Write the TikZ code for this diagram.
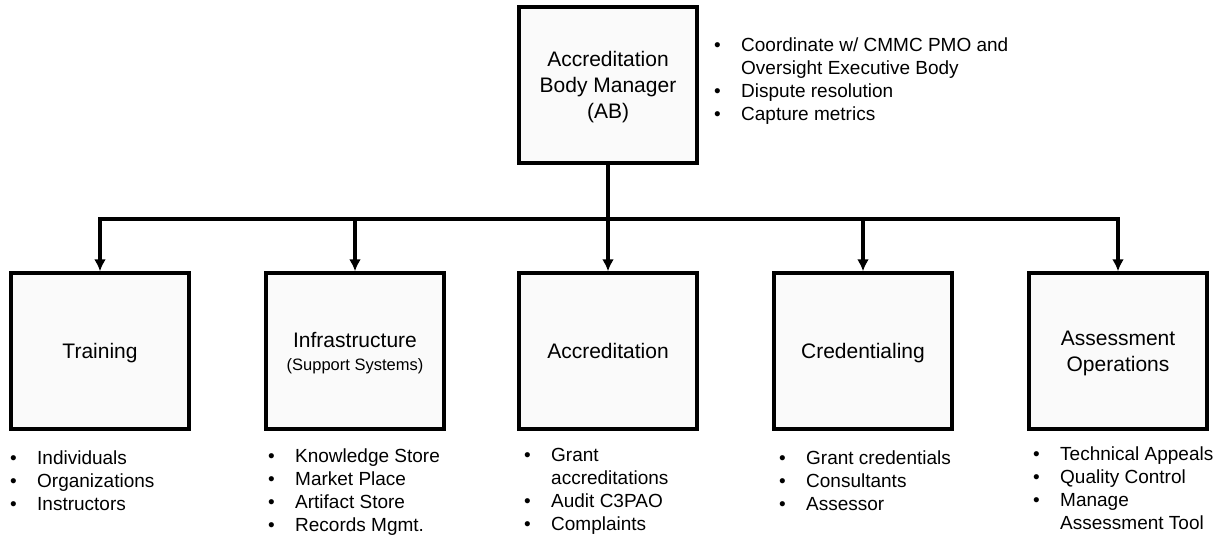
\documentclass[tikz,border=0pt]{standalone}
\usepackage{fontspec}
\setmainfont{Liberation Sans}
\usetikzlibrary{arrows.meta}

\newcommand\bl{\makebox[27pt][l]{\textbullet}}
\newcommand\ind{\hspace*{27pt}}

\tikzset{
  unit/.style={draw,line width=3.5pt,fill=black!2,minimum width=178pt,minimum height=156pt,
    align=center,text depth=-5pt,font=\fontsize{21}{26}\selectfont},
  notes/.style={anchor=north west,inner sep=0pt,align=left,font=\fontsize{19}{23}\selectfont},
  link/.style={line width=3.5pt,->}
}

\begin{document}
\begin{tikzpicture}[x=1pt,y=-1pt,>={Latex[length=12pt,width=12pt]}]
   \useasboundingbox (0,0) rectangle (1225,536);

   \node[unit] (ab) at (608,85) {Accreditation\\Body Manager\\(AB)};
   \node[notes] (abl) at (714,38) {\bl Coordinate w/ CMMC PMO and\\\ind Oversight Executive Body\\\bl Dispute resolution\\\bl Capture metrics};

   \node[unit] (tr) at (100,351) {Training};
   \node[unit] (inf) at (355,351) {Infrastructure\\[-3pt]{\fontsize{16.5}{18}\selectfont(Support Systems)}};
   \node[unit] (acc) at (608,351) {Accreditation};
   \node[unit] (cred) at (863,351) {Credentialing};
   \node[unit] (ops) at (1118,351) {Assessment\\Operations};

   \node[notes] (trl) at (10,451) {\bl Individuals\\\bl Organizations\\\bl Instructors};
   \node[notes] (infl) at (268,449) {\bl Knowledge Store\\\bl Market Place\\\bl Artifact Store\\\bl Records Mgmt.};
   \node[notes] (accl) at (524,448) {\bl Grant\\\ind accreditations\\\bl Audit C3PAO\\\bl Complaints};
   \node[notes] (credl) at (779,451) {\bl Grant credentials\\\bl Consultants\\\bl Assessor};
   \node[notes] (opsl) at (1033,447) {\bl Technical Appeals\\\bl Quality Control\\\bl Manage\\\ind Assessment Tool};

   \coordinate (split) at (608,219);

   \draw [link] (ab) -- (acc);
   \draw [link] (split) -| (tr);
   \draw [link] (split) -| (inf);
   \draw [link] (split) -| (cred);
   \draw [link] (split) -| (ops);
\end{tikzpicture}
\end{document}
